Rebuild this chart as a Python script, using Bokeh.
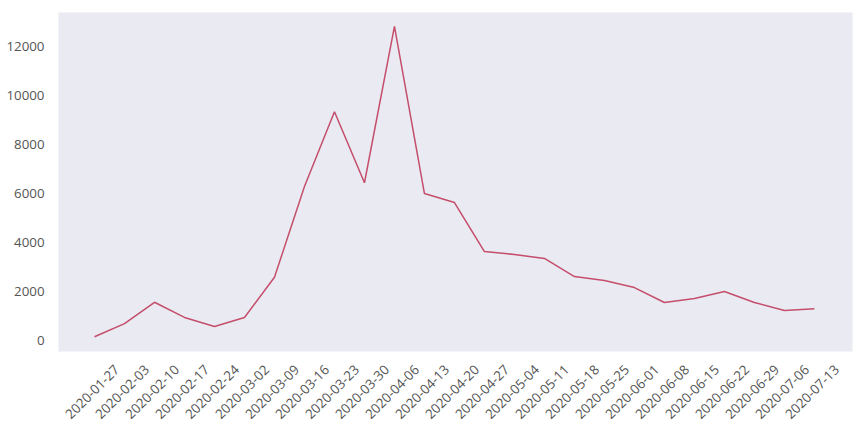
import math
from bokeh.plotting import figure
from bokeh.models import FixedTicker, Range1d
from bokeh.embed import file_html
from bokeh.resources import INLINE

weeks = ["2020-01-27", "2020-02-03", "2020-02-10", "2020-02-17", "2020-02-24",
         "2020-03-02", "2020-03-09", "2020-03-16", "2020-03-23", "2020-03-30",
         "2020-04-06", "2020-04-13", "2020-04-20", "2020-04-27", "2020-05-04",
         "2020-05-11", "2020-05-18", "2020-05-25", "2020-06-01", "2020-06-08",
         "2020-06-15", "2020-06-22", "2020-06-29", "2020-07-06", "2020-07-13"]
cases = [150, 690, 1560, 940, 570,
         940, 2580, 6290, 9340, 6440,
         12820, 6000, 5630, 3630, 3510,
         3350, 2610, 2450, 2160, 1550,
         1710, 2000, 1550, 1220, 1300]
y_ticks = [0, 2000, 4000, 6000, 8000, 10000, 12000]

idx = list(range(len(weeks)))

p = figure(width=864, height=432, output_backend="svg", toolbar_location=None,
           x_range=Range1d(-1.2, len(weeks) - 1 + 1.27),
           y_range=Range1d(-450, 13390),
           min_border_left=58, min_border_right=12, min_border_top=12, min_border_bottom=81)

p.line(idx, cases, line_color="#C44E6B", line_width=1.5)

p.background_fill_color = "#EAEAF2"
p.border_fill_color = "white"
p.outline_line_color = None
p.grid.visible = False

shift = 0.75
p.xaxis.ticker = FixedTicker(ticks=[i + shift for i in idx])
p.xaxis.major_label_overrides = {i + shift: w for i, w in zip(idx, weeks)}
p.xaxis.major_label_orientation = math.pi / 4
p.yaxis.ticker = FixedTicker(ticks=y_ticks)

for ax in (p.xaxis, p.yaxis):
    ax.axis_line_color = None
    ax.major_tick_line_color = None
    ax.minor_tick_line_color = None
    ax.major_label_text_font = "Open Sans"
    ax.major_label_text_font_size = "10pt"
    ax.major_label_text_color = "#555555"
p.yaxis.major_label_standoff = 8
p.xaxis.major_label_standoff = 10

open("out.html", "w").write(file_html(p, INLINE))
